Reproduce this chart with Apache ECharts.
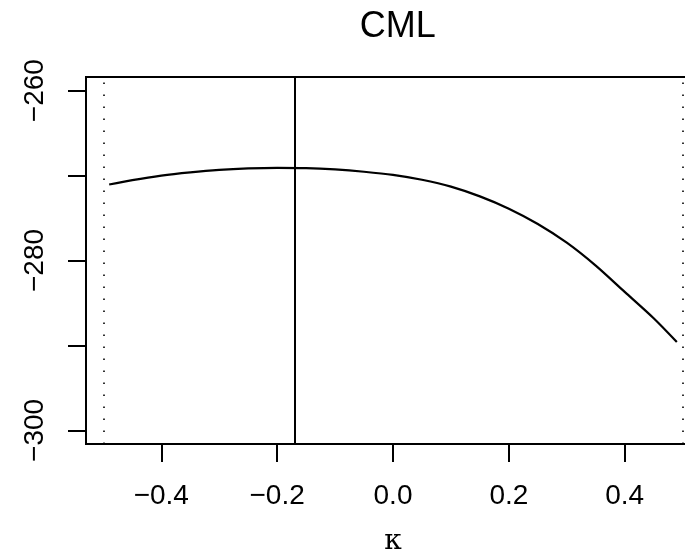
<!DOCTYPE html>
<html>
<head>
<meta charset="utf-8">
<script src="https://cdn.jsdelivr.net/npm/echarts@6/dist/echarts.min.js"></script>
<style>html,body{margin:0;padding:0;background:#fff;}#c{width:685px;height:555px;}</style>
</head>
<body>
<div id="c"></div>
<script>
var kappa = [-0.49,-0.45,-0.40,-0.35,-0.30,-0.25,-0.20,-0.15,-0.10,-0.05,0.00,0.05,0.10,0.15,0.20,0.25,0.30,0.35,0.40,0.45,0.49];
var cml = [-271.05,-270.53,-270.0,-269.62,-269.33,-269.16,-269.09,-269.12,-269.28,-269.55,-269.92,-270.5,-271.3,-272.45,-273.9,-275.7,-277.9,-280.6,-283.7,-286.8,-289.6];
var xTicks = [-0.4,-0.2,0.0,0.2,0.4];
var yTicks = [-300,-290,-280,-270,-260];
var yLabels = [-300,-280,-260];
var kappaHat = -0.173;
var kappaBounds = [-0.5, 0.5];
var titleText = 'CML';
var xName = 'κ';

var FONT = '"Liberation Sans", Arial, Helvetica, sans-serif';
function fmt(v, d){ var s = v.toFixed(d); return s.replace('-', '\u2212'); }

var chart = echarts.init(document.getElementById('c'), null, {renderer:'canvas'});
var marks = kappaBounds.map(function(b){
  return {xAxis: b, lineStyle:{color:'#000', width:1.6, type:[1.6,10.4]}};
});
marks.push({xAxis: kappaHat, lineStyle:{color:'#000', width:2, type:'solid'}});

chart.setOption({
  animation:false,
  backgroundColor:'#fff',
  title:{text:titleText, left:392.7, textAlign:'center', top:4,
    textStyle:{fontFamily:FONT, fontSize:36, fontWeight:'normal', color:'#000'}},
  grid:{left:86, top:77, width:614, height:367, show:true, borderColor:'#000', borderWidth:2,
    backgroundColor:'transparent', containLabel:false, outerBoundsMode:'none'},
  xAxis:{type:'value', min:-0.53, max:0.53,
    name:xName, nameLocation:'middle', nameGap:84,
    nameTextStyle:{fontFamily:'"DejaVu Serif", serif', fontSize:28, color:'#000'},
    axisLine:{show:false, onZero:false}, splitLine:{show:false},
    axisTick:{show:true, customValues:xTicks, length:18, lineStyle:{color:'#000', width:2}},
    axisLabel:{customValues:xTicks, margin:38, fontFamily:FONT, fontSize:28, color:'#000', lineHeight:28,
      formatter:function(v){return fmt(v,1);}}
  },
  yAxis:{type:'value', min:-301.6, max:-258.4,
    axisLine:{show:false, onZero:false}, splitLine:{show:false},
    axisTick:{show:true, customValues:yTicks, length:18, lineStyle:{color:'#000', width:2}},
    axisLabel:{customValues:yLabels, rotate:90, margin:37, fontFamily:FONT, fontSize:28, color:'#000', lineHeight:28,
      formatter:function(v){return fmt(v,0);}}
  },
  series:[{
    type:'line', data:kappa.map(function(k,i){return [k, cml[i]];}),
    showSymbol:false, smooth:0.3, lineStyle:{color:'#000', width:2.2},
    markLine:{silent:true, symbol:['none','none'], label:{show:false}, data:marks}
  }]
});
</script>
</body>
</html>
